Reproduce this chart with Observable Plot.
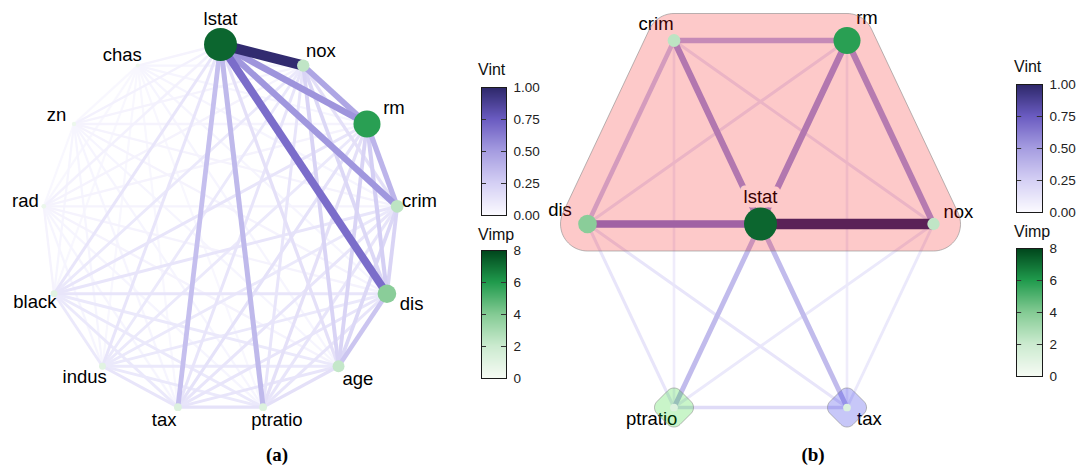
<!DOCTYPE html>
<html><head><meta charset="utf-8">
<script src="https://cdn.jsdelivr.net/npm/d3@7"></script>
<script src="https://cdn.jsdelivr.net/npm/@observablehq/plot@0.6"></script>
<style>
html,body{margin:0;padding:0;background:#fff;}
#root{position:relative;width:1080px;height:468px;overflow:hidden;font-family:"Liberation Sans",Arial,sans-serif;}
#root svg{position:absolute;max-width:none;overflow:visible;}
.cap{position:absolute;font-family:"Liberation Serif","Times New Roman",serif;font-weight:bold;font-size:19px;line-height:1;transform:translate(-50%,-50%);color:#000;}
.ltitle{position:absolute;font-size:16px;line-height:1;color:#111;font-family:"Liberation Sans",Arial,sans-serif;}
</style></head><body><div id="root"></div><script>
// ---------------- data ----------------
const nodesA = ["lstat","nox","rm","crim","dis","age","ptratio","tax","indus","black","rad","zn","chas"];
const vimpNames  = ["lstat","rm","dis","crim","nox","age","ptratio","tax","black","indus","rad","zn","chas"];
const vimpValues = [7.2, 5.8, 3.8, 2.4, 2.3, 2.2, 1.2, 1.2, 1.0, 1.0, 0.5, 0.4, 0.3];

const edgesA = [
 ["lstat","nox",0.98],["lstat","rm",0.53],["lstat","crim",0.52],["lstat","dis",0.68],["lstat","age",0.15],["lstat","ptratio",0.36],["lstat","tax",0.33],["lstat","indus",0.12],["lstat","black",0.12],["lstat","rad",0.05],["lstat","zn",0.05],["lstat","chas",0.04],
 ["nox","rm",0.45],["nox","crim",0.15],["nox","dis",0.2],["nox","age",0.22],["nox","ptratio",0.12],["nox","tax",0.12],["nox","indus",0.1],["nox","black",0.1],["nox","rad",0.04],["nox","zn",0.04],["nox","chas",0.03],
 ["rm","crim",0.38],["rm","dis",0.25],["rm","age",0.22],["rm","ptratio",0.15],["rm","tax",0.14],["rm","indus",0.1],["rm","black",0.12],["rm","rad",0.04],["rm","zn",0.04],["rm","chas",0.03],
 ["crim","dis",0.22],["crim","age",0.2],["crim","ptratio",0.12],["crim","tax",0.12],["crim","indus",0.1],["crim","black",0.12],["crim","rad",0.04],["crim","zn",0.04],["crim","chas",0.03],
 ["dis","age",0.3],["dis","ptratio",0.12],["dis","tax",0.12],["dis","indus",0.1],["dis","black",0.12],["dis","rad",0.04],["dis","zn",0.04],["dis","chas",0.03],
 ["age","ptratio",0.15],["age","tax",0.12],["age","indus",0.1],["age","black",0.1],["age","rad",0.04],["age","zn",0.03],["age","chas",0.03],
 ["ptratio","tax",0.14],["ptratio","indus",0.1],["ptratio","black",0.1],["ptratio","rad",0.03],["ptratio","zn",0.03],["ptratio","chas",0.02],
 ["tax","indus",0.12],["tax","black",0.1],["tax","rad",0.03],["tax","zn",0.03],["tax","chas",0.02],
 ["indus","black",0.1],["indus","rad",0.03],["indus","zn",0.03],["indus","chas",0.02],
 ["black","rad",0.04],["black","zn",0.03],["black","chas",0.02],
 ["rad","zn",0.02],["rad","chas",0.02],["zn","chas",0.02]
];

const nodesB = ["crim","rm","dis","lstat","nox","ptratio","tax"];
const layoutCol = [1, 3, 0, 2, 4, 1, 3];
const layoutRow = [0, 0, 1, 1, 1, 2, 2];
const groupB    = ["g1","g1","g1","g1","g1","g2","g3"];

const edgesB = [
 ["lstat","nox",0.98],["lstat","dis",0.62],["lstat","crim",0.52],["lstat","rm",0.52],["rm","nox",0.5],
 ["crim","rm",0.4],["crim","dis",0.3],["crim","nox",0.12],["rm","dis",0.12],
 ["lstat","ptratio",0.35],["lstat","tax",0.35],["ptratio","tax",0.18],
 ["crim","ptratio",0.08],["rm","tax",0.08],["dis","ptratio",0.12],["dis","tax",0.12],["nox","ptratio",0.1],["nox","tax",0.1]
];

const vintTicks = [0, 0.25, 0.5, 0.75, 1];
const vimpTicks = [0, 2, 4, 6, 8];

// ---------------- scales / styles ----------------
const vintScale = {type: "linear", domain: [0, 0.25, 0.5, 0.75, 1], range: ["#fbfaff", "#d4cff4", "#a59ce0", "#6a5bc1", "#2c2768"]};
const vimpScale = {type: "linear", domain: [0, 2, 4, 6, 8], range: ["#f6fbf4", "#cbeacf", "#83ca93", "#1f9a4c", "#00441b"]};
const rScale = {type: "linear", domain: [0, 8], range: [1.35, 18.15]};
const rApply = Plot.scale({r: rScale});
const vimpOf = new Map(vimpNames.map((n, i) => [n, vimpValues[i]]));
const ew = v => 2 + 8.5 * v;
const FONT = "'Liberation Sans', Arial, sans-serif";
const root = document.getElementById("root");
function place(el, left, top) { el.style.left = left + "px"; el.style.top = top + "px"; root.appendChild(el); }
const svgStyle = {background: "transparent", fontFamily: FONT, overflow: "visible"};

function labelOffset(c, s, r, bx, by) {
  const dx = bx * Math.sign(c) * Math.pow(Math.abs(c), 0.3) + c * (r - 6);
  const dy = by * Math.sign(s) * Math.pow(Math.abs(s), 0.5) + s * (r - 6);
  return [dx, dy];
}

// ---------------- panel (a) ----------------
const xRangeA = [42, 398], yRangeA = [44, 412];
const pxA = (xRangeA[1] - xRangeA[0]) / 2, pyA = (yRangeA[1] - yRangeA[0]) / 2;
const nodeA = nodesA.map((name, i) => {
  const t = -Math.PI / 2 + i * 2 * Math.PI / nodesA.length;
  const v = vimpOf.get(name);
  const c = Math.cos(t), s = Math.sin(t);
  const [dx, dy] = labelOffset(c, s, rApply.apply(v), 22, 15);
  return {name, v, x: c, y: s, lx: c + dx / pxA, ly: s + dy / pyA};
});
const posA = new Map(nodeA.map(d => [d.name, d]));
const eA = edgesA.slice().sort((a, b) => a[2] - b[2]);

const baseA = {width: 460, height: 468, margin: 0,
  x: {domain: [-1, 1], range: xRangeA, axis: null},
  y: {domain: [-1, 1], range: yRangeA, axis: null}};

place(Plot.plot({...baseA, color: vintScale, style: svgStyle,
  marks: [
    Plot.link(eA, {x1: d => posA.get(d[0]).x, y1: d => posA.get(d[0]).y, x2: d => posA.get(d[1]).x, y2: d => posA.get(d[1]).y,
      stroke: d => d[2], strokeWidth: d => ew(d[2]), strokeLinecap: "butt"})
  ]}), 0, 0);

place(Plot.plot({...baseA, color: vimpScale, r: rScale, style: svgStyle,
  marks: [
    Plot.dot(nodeA, {x: "x", y: "y", r: "v", fill: "v"}),
    Plot.text(nodeA, {x: "lx", y: "ly", text: "name", fontSize: 18.5, fill: "black"})
  ]}), 0, 0);

// ---------------- panel (b) ----------------
const OXB = 543;
const xRangeB = [587 - OXB, 933 - OXB], yRangeB = [40, 407];
const pxB = (xRangeB[1] - xRangeB[0]) / 4, pyB = (yRangeB[1] - yRangeB[0]) / 2;
const nodeB = nodesB.map((name, i) => {
  const v = vimpOf.get(name);
  const gx = layoutCol[i], gy = layoutRow[i];
  let ddx = (gx - 2) * pxB, ddy = (gy - 1.6) * pyB;
  const len = Math.hypot(ddx, ddy);
  const [dx, dy] = labelOffset(ddx / len, ddy / len, rApply.apply(v), 26, 16);
  return {name, v, x: gx, y: gy, g: groupB[i], lx: gx + dx / pxB, ly: gy + dy / pyB};
});
const posB = new Map(nodeB.map(d => [d.name, d]));
const eB = edgesB.slice().sort((a, b) => a[2] - b[2]);

function roundedHull(group, basePx, padPx) {
  const pts = [];
  const base = basePx > 0 ? [[basePx, 0], [0, basePx], [-basePx, 0], [0, -basePx]] : [[0, 0]];
  for (const n of nodeB.filter(d => d.g === group)) {
    for (const [bx, by] of base) for (let k = 0; k < 72; k++) {
      const t = 2 * Math.PI * k / 72;
      pts.push([n.x + (bx + padPx * Math.cos(t)) / pxB, n.y + (by + padPx * Math.sin(t)) / pyB]);
    }
  }
  return d3.polygonHull(pts);
}
const hullStyle = {x: d => d[0], y: d => d[1], curve: "linear-closed", stroke: "#8a8a8a", strokeOpacity: 0.75, strokeWidth: 0.8};

const baseB = {width: 1080 - OXB, height: 468, margin: 0,
  x: {domain: [0, 4], range: xRangeB, axis: null},
  y: {domain: [0, 2], range: yRangeB, axis: null}};

place(Plot.plot({...baseB, color: vintScale, style: svgStyle,
  marks: [
    Plot.link(eB, {x1: d => posB.get(d[0]).x, y1: d => posB.get(d[0]).y, x2: d => posB.get(d[1]).x, y2: d => posB.get(d[1]).y,
      stroke: d => d[2], strokeWidth: d => ew(d[2]), strokeLinecap: "butt"}),
    Plot.text(nodeB, {x: "lx", y: "ly", text: "name", fontSize: 18.5, fill: "black", stroke: "white", strokeWidth: 9, strokeLinejoin: "round", paintOrder: "stroke"}),
    Plot.line(roundedHull("g1", 0, 27), {...hullStyle, fill: "#f50000", fillOpacity: 0.21}),
    Plot.line(roundedHull("g2", 11, 8.5), {...hullStyle, fill: "#00cf00", fillOpacity: 0.21}),
    Plot.line(roundedHull("g3", 11, 8.5), {...hullStyle, fill: "#0000e0", fillOpacity: 0.22})
  ]}), OXB, 0);

place(Plot.plot({...baseB, color: vimpScale, r: rScale, style: svgStyle,
  marks: [
    Plot.dot(nodeB, {x: "x", y: "y", r: "v", fill: "v"})
  ]}), OXB, 0);

// ---------------- colour bars ----------------
function colorbar(scale, ticks, fmt, left, top, w, h, mr) {
  const [d0, d1] = [scale.domain[0], scale.domain[scale.domain.length - 1]];
  const n = 128;
  const M = 12;
  const cells = d3.range(n).map(i => ({y1: d0 + (d1 - d0) * i / n, y2: d0 + (d1 - d0) * Math.min(i + 1.6, n) / n, v: d0 + (d1 - d0) * (i + 0.5) / n}));
  const svg = Plot.plot({width: 10 + w + mr, height: h + 2 * M, marginLeft: 10, marginRight: mr, marginTop: M, marginBottom: M,
    style: {...svgStyle, fontSize: "13.5px", color: "#222"},
    x: {domain: [0, 1], axis: null},
    y: {domain: [d0, d1], axis: "right", ticks, tickFormat: fmt, tickSize: 0, tickPadding: 7, label: null},
    color: scale,
    marks: [
      Plot.rect(cells, {x1: () => 0, x2: () => 1, y1: "y1", y2: "y2", fill: "v"}),
      Plot.ruleY(ticks, {y: d => d, x1: () => 0, x2: () => 0.2, stroke: "#333", strokeWidth: 1}),
      Plot.ruleY(ticks, {y: d => d, x1: () => 0.8, x2: () => 1, stroke: "#333", strokeWidth: 1}),
      Plot.frame({stroke: "#1a1a1a", strokeWidth: 1})
    ]});
  place(svg, left - 10, top - M);
}
colorbar(vintScale, vintTicks, d3.format(".2f"), 481, 87, 25, 128, 44);
colorbar(vimpScale, vimpTicks, d3.format("d"), 481, 250, 25, 128, 44);
colorbar(vintScale, vintTicks, d3.format(".2f"), 1016, 84, 26, 128, 38);
colorbar(vimpScale, vimpTicks, d3.format("d"), 1016, 248, 26, 128, 38);

function addText(cls, txt, left, top) { const d = document.createElement("div"); d.className = cls; d.textContent = txt; place(d, left, top); }
addText("ltitle", "Vint", 478, 62);
addText("ltitle", "Vimp", 478, 227);
addText("ltitle", "Vint", 1014, 59);
addText("ltitle", "Vimp", 1014, 224);
addText("cap", "(a)", 277, 454);
addText("cap", "(b)", 813, 454);
</script></body></html>
